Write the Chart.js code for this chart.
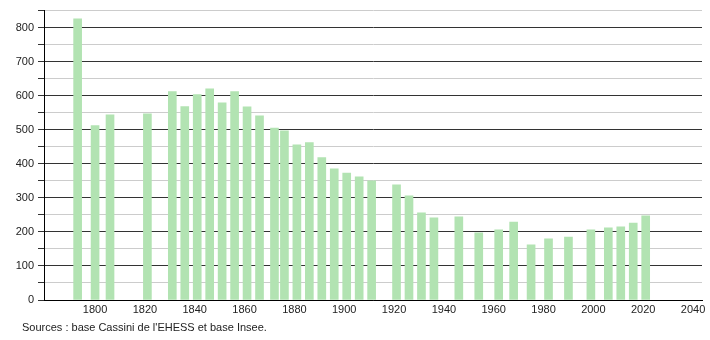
<!DOCTYPE html>
<html>
<head>
<meta charset="utf-8">
<script src="https://cdn.jsdelivr.net/npm/chart.js@4"></script>
<style>
html,body{margin:0;padding:0;background:#fff;}
#wrap{width:710px;height:340px;position:relative;}
</style>
</head>
<body>
<div id="wrap"><canvas id="c" width="710" height="340"></canvas></div>
<script>
const years = [1793,1800,1806,1821,1831,1836,1841,1846,1851,1856,1861,1866,1872,1876,1881,1886,1891,1896,1901,1906,1911,1921,1926,1931,1936,1946,1954,1962,1968,1975,1982,1990,1999,2006,2011,2016,2021];
const population = [826,512,544,547,612,568,603,620,579,612,567,541,505,497,456,462,418,385,373,362,350,338,306,256,241,244,197,206,229,162,180,185,206,212,215,226,247];
const yTickLabels = [0,100,200,300,400,500,600,700,800];
const xTickLabels = [1800,1820,1840,1860,1880,1900,1920,1940,1960,1980,2000,2020,2040];
const sourceText = "Sources : base Cassini de l'EHESS et base Insee.";

const FONT = "'Liberation Sans', Arial, sans-serif";

const sourcePlugin = {
  id: 'sourceText',
  afterDraw(chart) {
    const ctx = chart.ctx;
    ctx.save();
    ctx.font = "11px " + FONT;
    ctx.fillStyle = '#222';
    ctx.textBaseline = 'middle';
    ctx.textAlign = 'left';
    ctx.fillText(sourceText, 22, 328);
    ctx.restore();
  }
};

new Chart(document.getElementById('c'), {
  type: 'bar',
  data: {
    datasets: [{
      data: years.map((y, i) => ({x: y, y: population[i]})),
      backgroundColor: '#b2e3b2',
      borderWidth: 0,
      barThickness: 8
    }]
  },
  options: {
    responsive: false,
    animation: false,
    devicePixelRatio: 1,
    layout: {padding: {left: 0, right: 8, top: 10, bottom: 0}},
    plugins: {legend: {display: false}, tooltip: {enabled: false}},
    scales: {
      x: {
        type: 'linear',
        min: 1779.5,
        max: 2043.6,
        offset: false,
        grid: {display: false, drawTicks: false},
        border: {display: true, color: '#000', width: 1},
        ticks: {
          autoSkip: false,
          maxRotation: 0,
          padding: 3,
          color: '#222',
          font: {family: FONT, size: 11},
          callback: v => String(v)
        },
        afterBuildTicks: s => { s.ticks = xTickLabels.map(v => ({value: v})); },
        afterFit: s => { s.height = 40; }
      },
      y: {
        min: 0,
        max: 850,
        grid: {
          color: ctx => (ctx.tick && ctx.tick.value % 100 === 0) ? '#333' : '#cccccc',
          tickColor: '#333',
          tickLength: 6,
          lineWidth: 1
        },
        border: {display: true, color: '#000', width: 1},
        ticks: {
          stepSize: 50,
          padding: 4,
          color: '#222',
          font: {family: FONT, size: 11},
          callback: v => yTickLabels.includes(v) ? String(v) : ''
        },
        afterFit: s => { s.width = 44; }
      }
    }
  },
  plugins: [sourcePlugin]
});
</script>
</body>
</html>
